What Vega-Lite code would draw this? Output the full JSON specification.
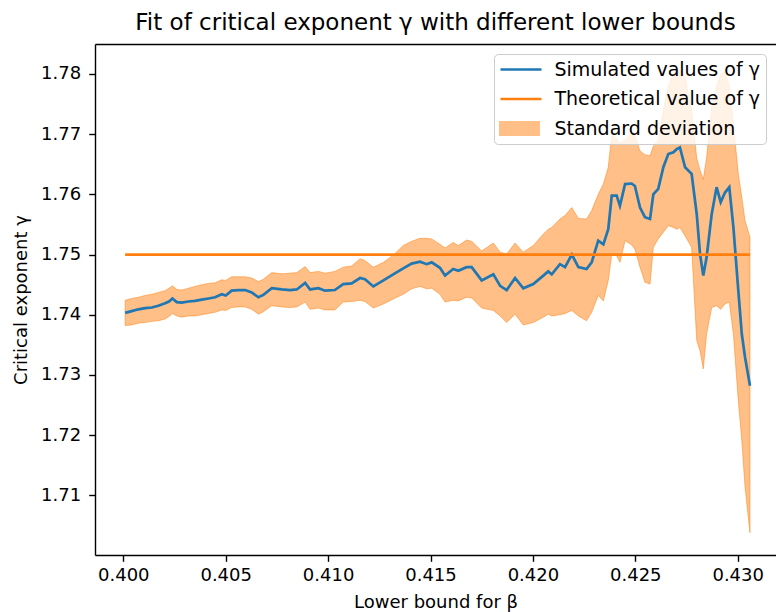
{
  "$schema": "https://vega.github.io/schema/vega-lite/v6.json",
  "width": 681,
  "height": 511,
  "autosize": {"type": "none"},
  "padding": {"left": 95, "top": 44, "right": 0, "bottom": 57},
  "background": "white",
  "config": {
    "view": {"stroke": null},
    "font": "DejaVu Sans",
    "axis": {
      "grid": false,
      "domainColor": "black",
      "domainWidth": 1.4,
      "tickColor": "black",
      "tickWidth": 1.4,
      "tickSize": 6.3,
      "labelColor": "black",
      "labelFont": "DejaVu Sans",
      "labelFontSize": 18,
      "titleColor": "black",
      "titleFont": "DejaVu Sans",
      "titleFontSize": 18,
      "titleFontWeight": "normal"
    },
    "legend": {
      "title": null,
      "orient": "none",
      "legendX": 399,
      "legendY": 10,
      "padding": 5,
      "labelFont": "DejaVu Sans",
      "labelFontSize": 19,
      "labelColor": "black",
      "labelLimit": 400,
      "labelOffset": 14.4,
      "symbolSize": 1681,
      "clipHeight": 21,
      "rowPadding": 8.5
    }
  },
  "title": {
    "text": "Fit of critical exponent γ with different lower bounds",
    "font": "DejaVu Sans",
    "fontSize": 23,
    "fontWeight": "normal",
    "color": "black",
    "anchor": "middle",
    "offset": 9
  },
  "datasets": {
    "band": [
      {"x": 0.40009, "y": 1.7403, "lo": 1.7382, "hi": 1.7424},
      {"x": 0.40041, "y": 1.7406, "lo": 1.7383, "hi": 1.7427},
      {"x": 0.40074, "y": 1.7409, "lo": 1.7386, "hi": 1.7429},
      {"x": 0.40106, "y": 1.7411, "lo": 1.7387, "hi": 1.7432},
      {"x": 0.40139, "y": 1.7412, "lo": 1.7389, "hi": 1.7434},
      {"x": 0.40171, "y": 1.7415, "lo": 1.7390, "hi": 1.7437},
      {"x": 0.40204, "y": 1.7419, "lo": 1.7393, "hi": 1.7440},
      {"x": 0.40223, "y": 1.7422, "lo": 1.7397, "hi": 1.7444},
      {"x": 0.40240, "y": 1.7427, "lo": 1.7402, "hi": 1.7448},
      {"x": 0.40261, "y": 1.7421, "lo": 1.7398, "hi": 1.7442},
      {"x": 0.40285, "y": 1.7420, "lo": 1.7396, "hi": 1.7441},
      {"x": 0.40318, "y": 1.7422, "lo": 1.7398, "hi": 1.7444},
      {"x": 0.40350, "y": 1.7423, "lo": 1.7398, "hi": 1.7447},
      {"x": 0.40383, "y": 1.7425, "lo": 1.7400, "hi": 1.7450},
      {"x": 0.40416, "y": 1.7427, "lo": 1.7402, "hi": 1.7452},
      {"x": 0.40448, "y": 1.7429, "lo": 1.7404, "hi": 1.7453},
      {"x": 0.40481, "y": 1.7434, "lo": 1.7408, "hi": 1.7458},
      {"x": 0.40500, "y": 1.7432, "lo": 1.7407, "hi": 1.7457},
      {"x": 0.40529, "y": 1.7440, "lo": 1.7412, "hi": 1.7463},
      {"x": 0.40562, "y": 1.7441, "lo": 1.7413, "hi": 1.7463},
      {"x": 0.40595, "y": 1.7441, "lo": 1.7413, "hi": 1.7463},
      {"x": 0.40627, "y": 1.7437, "lo": 1.7409, "hi": 1.7461},
      {"x": 0.40660, "y": 1.7429, "lo": 1.7401, "hi": 1.7455},
      {"x": 0.40684, "y": 1.7433, "lo": 1.7405, "hi": 1.7459},
      {"x": 0.40725, "y": 1.7444, "lo": 1.7415, "hi": 1.7470},
      {"x": 0.40774, "y": 1.7442, "lo": 1.7413, "hi": 1.7468},
      {"x": 0.40814, "y": 1.7441, "lo": 1.7412, "hi": 1.7469},
      {"x": 0.40847, "y": 1.7442, "lo": 1.7413, "hi": 1.7470},
      {"x": 0.40888, "y": 1.7453, "lo": 1.7421, "hi": 1.7480},
      {"x": 0.40912, "y": 1.7442, "lo": 1.7409, "hi": 1.7470},
      {"x": 0.40953, "y": 1.7444, "lo": 1.7411, "hi": 1.7472},
      {"x": 0.40985, "y": 1.7440, "lo": 1.7408, "hi": 1.7469},
      {"x": 0.41033, "y": 1.7441, "lo": 1.7408, "hi": 1.7472},
      {"x": 0.41074, "y": 1.7451, "lo": 1.7421, "hi": 1.7479},
      {"x": 0.41115, "y": 1.7452, "lo": 1.7422, "hi": 1.7481},
      {"x": 0.41156, "y": 1.7461, "lo": 1.7424, "hi": 1.7493},
      {"x": 0.41180, "y": 1.7459, "lo": 1.7422, "hi": 1.7490},
      {"x": 0.41221, "y": 1.7447, "lo": 1.7411, "hi": 1.7479},
      {"x": 0.41270, "y": 1.7457, "lo": 1.7418, "hi": 1.7487},
      {"x": 0.41318, "y": 1.7467, "lo": 1.7426, "hi": 1.7499},
      {"x": 0.41367, "y": 1.7477, "lo": 1.7434, "hi": 1.7515},
      {"x": 0.41408, "y": 1.7485, "lo": 1.7443, "hi": 1.7522},
      {"x": 0.41449, "y": 1.7488, "lo": 1.7447, "hi": 1.7527},
      {"x": 0.41481, "y": 1.7484, "lo": 1.7443, "hi": 1.7527},
      {"x": 0.41506, "y": 1.7487, "lo": 1.7444, "hi": 1.7526},
      {"x": 0.41546, "y": 1.7478, "lo": 1.7434, "hi": 1.7517},
      {"x": 0.41571, "y": 1.7465, "lo": 1.7421, "hi": 1.7511},
      {"x": 0.41611, "y": 1.7476, "lo": 1.7424, "hi": 1.7520},
      {"x": 0.41636, "y": 1.7473, "lo": 1.7423, "hi": 1.7515},
      {"x": 0.41676, "y": 1.7479, "lo": 1.7429, "hi": 1.7524},
      {"x": 0.41701, "y": 1.7479, "lo": 1.7428, "hi": 1.7522},
      {"x": 0.41750, "y": 1.7457, "lo": 1.7411, "hi": 1.7506},
      {"x": 0.41807, "y": 1.7467, "lo": 1.7407, "hi": 1.7519},
      {"x": 0.41840, "y": 1.7448, "lo": 1.7398, "hi": 1.7504},
      {"x": 0.41872, "y": 1.7441, "lo": 1.7387, "hi": 1.7501},
      {"x": 0.41913, "y": 1.7461, "lo": 1.7401, "hi": 1.7519},
      {"x": 0.41953, "y": 1.7444, "lo": 1.7383, "hi": 1.7504},
      {"x": 0.42002, "y": 1.7451, "lo": 1.7387, "hi": 1.7515},
      {"x": 0.42051, "y": 1.7465, "lo": 1.7396, "hi": 1.7534},
      {"x": 0.42075, "y": 1.7472, "lo": 1.7401, "hi": 1.7542},
      {"x": 0.42092, "y": 1.7467, "lo": 1.7398, "hi": 1.7545},
      {"x": 0.42132, "y": 1.7484, "lo": 1.7400, "hi": 1.7559},
      {"x": 0.42157, "y": 1.7479, "lo": 1.7402, "hi": 1.7565},
      {"x": 0.42190, "y": 1.7500, "lo": 1.7407, "hi": 1.7578},
      {"x": 0.42222, "y": 1.7479, "lo": 1.7398, "hi": 1.7560},
      {"x": 0.42262, "y": 1.7476, "lo": 1.7390, "hi": 1.7559},
      {"x": 0.42287, "y": 1.7487, "lo": 1.7404, "hi": 1.7573},
      {"x": 0.42319, "y": 1.7523, "lo": 1.7432, "hi": 1.7600},
      {"x": 0.42344, "y": 1.7517, "lo": 1.7423, "hi": 1.7617},
      {"x": 0.42368, "y": 1.7542, "lo": 1.7457, "hi": 1.7645},
      {"x": 0.42385, "y": 1.7598, "lo": 1.7501, "hi": 1.7700},
      {"x": 0.42409, "y": 1.7598, "lo": 1.7498, "hi": 1.7692},
      {"x": 0.42425, "y": 1.7581, "lo": 1.7487, "hi": 1.7685},
      {"x": 0.42450, "y": 1.7617, "lo": 1.7523, "hi": 1.7690},
      {"x": 0.42482, "y": 1.7618, "lo": 1.7516, "hi": 1.7702},
      {"x": 0.42498, "y": 1.7614, "lo": 1.7509, "hi": 1.7698},
      {"x": 0.42523, "y": 1.7578, "lo": 1.7479, "hi": 1.7672},
      {"x": 0.42547, "y": 1.7562, "lo": 1.7454, "hi": 1.7666},
      {"x": 0.42572, "y": 1.7559, "lo": 1.7451, "hi": 1.7664},
      {"x": 0.42588, "y": 1.7600, "lo": 1.7512, "hi": 1.7680},
      {"x": 0.42612, "y": 1.7609, "lo": 1.7526, "hi": 1.7690},
      {"x": 0.42637, "y": 1.7645, "lo": 1.7537, "hi": 1.7740},
      {"x": 0.42661, "y": 1.7667, "lo": 1.7548, "hi": 1.7780},
      {"x": 0.42686, "y": 1.7670, "lo": 1.7545, "hi": 1.7800},
      {"x": 0.42702, "y": 1.7675, "lo": 1.7542, "hi": 1.7806},
      {"x": 0.42718, "y": 1.7678, "lo": 1.7545, "hi": 1.7806},
      {"x": 0.42743, "y": 1.7645, "lo": 1.7531, "hi": 1.7795},
      {"x": 0.42775, "y": 1.7634, "lo": 1.7512, "hi": 1.7740},
      {"x": 0.42800, "y": 1.7567, "lo": 1.7357, "hi": 1.7660},
      {"x": 0.42816, "y": 1.7501, "lo": 1.7340, "hi": 1.7640},
      {"x": 0.42832, "y": 1.7465, "lo": 1.7310, "hi": 1.7625},
      {"x": 0.42848, "y": 1.7495, "lo": 1.7368, "hi": 1.7661},
      {"x": 0.42873, "y": 1.7567, "lo": 1.7412, "hi": 1.7744},
      {"x": 0.42897, "y": 1.7612, "lo": 1.7415, "hi": 1.7780},
      {"x": 0.42917, "y": 1.7587, "lo": 1.7409, "hi": 1.7800},
      {"x": 0.42938, "y": 1.7603, "lo": 1.7418, "hi": 1.7803},
      {"x": 0.42959, "y": 1.7612, "lo": 1.7421, "hi": 1.7780},
      {"x": 0.42979, "y": 1.7545, "lo": 1.7368, "hi": 1.7717},
      {"x": 0.43003, "y": 1.7440, "lo": 1.7257, "hi": 1.7634},
      {"x": 0.43020, "y": 1.7368, "lo": 1.7191, "hi": 1.7595},
      {"x": 0.43036, "y": 1.7329, "lo": 1.7113, "hi": 1.7556},
      {"x": 0.43060, "y": 1.7282, "lo": 1.7038, "hi": 1.7529}
    ],
    "theo": [
      {"x": 0.40009, "t": 1.75},
      {"x": 0.43060, "t": 1.75}
    ]
  },
  "layer": [
    {
      "data": {"name": "band"},
      "mark": {"type": "area", "stroke": "#ff7f0e", "strokeOpacity": 0.5, "strokeWidth": 1, "opacity": 1},
      "encoding": {
        "x": {
          "field": "x", "type": "quantitative",
          "scale": {"domain": [0.398618, 0.43187], "nice": false, "zero": false},
          "axis": {
            "orient": "bottom",
            "values": [0.4, 0.405, 0.41, 0.415, 0.42, 0.425, 0.43],
            "format": ".3f",
            "labelPadding": 5,
            "title": "Lower bound for β",
            "titlePadding": 9
          }
        },
        "y": {
          "field": "lo", "type": "quantitative",
          "scale": {"domain": [1.70008, 1.78498], "nice": false, "zero": false},
          "axis": {
            "values": [1.71, 1.72, 1.73, 1.74, 1.75, 1.76, 1.77, 1.78],
            "format": ".2f",
            "labelPadding": 8,
            "title": "Critical exponent γ",
            "titlePadding": 10
          }
        },
        "y2": {"field": "hi"},
        "fill": {
          "datum": "Standard deviation",
          "type": "nominal",
          "scale": {
            "domain": ["Simulated values of γ", "Theoretical value of γ", "Standard deviation"],
            "range": ["rgba(255,255,255,0)", "rgba(255,255,255,0)", "#ffbf86"]
          },
          "legend": {
            "title": null,
            "orient": "none",
            "legendX": 399,
            "legendY": 10,
            "fillColor": "rgba(255,255,255,0.8)",
            "strokeColor": "#cccccc",
            "cornerRadius": 4,
            "symbolType": "M-1,-0.36L1,-0.36L1,0.36L-1,0.36Z",
            "symbolStrokeWidth": 0,
            "symbolSize": 1681
          }
        }
      }
    },
    {
      "data": {"name": "band"},
      "mark": {"type": "line", "strokeWidth": 2.7},
      "encoding": {
        "x": {"field": "x", "type": "quantitative", "axis": null},
        "y": {"field": "y", "type": "quantitative"},
        "color": {
          "datum": "Simulated values of γ",
          "type": "nominal",
          "scale": {
            "domain": ["Simulated values of γ", "Theoretical value of γ"],
            "range": ["#1f77b4", "#ff7f0e"]
          },
          "legend": {
            "title": null,
            "orient": "none",
            "legendX": 399,
            "legendY": 10,
            "symbolType": "stroke",
            "symbolStrokeWidth": 2.7,
            "symbolSize": 1681,
            "labelExpr": "''"
          }
        }
      }
    },
    {
      "data": {"name": "theo"},
      "mark": {"type": "line", "strokeWidth": 2.7},
      "encoding": {
        "x": {
          "field": "x", "type": "quantitative",
          "axis": {"orient": "top", "labels": false, "ticks": false, "title": null, "domain": true}
        },
        "y": {"field": "t", "type": "quantitative"},
        "color": {"datum": "Theoretical value of γ", "type": "nominal"}
      }
    }
  ],
  "resolve": {"axis": {"x": "independent"}}
}
